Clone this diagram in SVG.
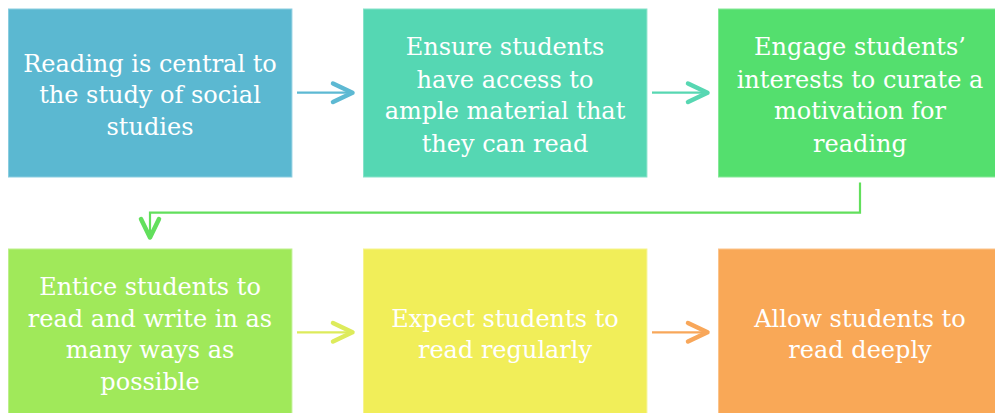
<svg xmlns="http://www.w3.org/2000/svg" width="995" height="413" viewBox="0 0 995 413">
<style>
.box{stroke-width:1}
.t{font-family:"DejaVu Serif","Liberation Serif",serif;font-size:24px;fill:#ffffff;text-anchor:middle}
.ln{fill:none;stroke-width:2.2}
.hd{fill:none;stroke-width:4.5;stroke-linecap:round;stroke-linejoin:round}
</style>
<rect width="995" height="413" fill="#ffffff"/>
<g id="n1"><rect class="box" x="8.5" y="9" width="283.4" height="168" fill="#5BB8D1" stroke="#8ACDE0"/>
<text class="t"><tspan x="150" y="71.7">Reading is central to</tspan><tspan x="150" y="103.3">the study of social</tspan><tspan x="150" y="135">studies</tspan></text></g>
<g id="n2"><rect class="box" x="363.5" y="9" width="283.4" height="168" fill="#55D7B3" stroke="#86E2C9"/>
<text class="t"><tspan x="505" y="55">Ensure students</tspan><tspan x="505" y="87.7">have access to</tspan><tspan x="505" y="119">ample material that</tspan><tspan x="505" y="151.7">they can read</tspan></text></g>
<g id="n3"><rect class="box" x="718.5" y="9" width="283.4" height="168" fill="#54DF6E" stroke="#86E898"/>
<text class="t"><tspan x="860" y="55">Engage students’</tspan><tspan x="860" y="87.7">interests to curate a</tspan><tspan x="860" y="119">motivation for</tspan><tspan x="860" y="151.7">reading</tspan></text></g>
<g id="n4"><rect class="box" x="8.5" y="249" width="283.4" height="168" fill="#A0E95A" stroke="#BDF08C"/>
<text class="t"><tspan x="150" y="295">Entice students to</tspan><tspan x="150" y="326.7">read and write in as</tspan><tspan x="150" y="358.3">many ways as</tspan><tspan x="150" y="390">possible</tspan></text></g>
<g id="n5"><rect class="box" x="363.5" y="249" width="283.4" height="168" fill="#F1EE59" stroke="#F6F38E"/>
<text class="t"><tspan x="505" y="326.7">Expect students to</tspan><tspan x="505" y="358.3">read regularly</tspan></text></g>
<g id="n6"><rect class="box" x="718.5" y="249" width="283.4" height="168" fill="#F9A857" stroke="#FBC48C"/>
<text class="t"><tspan x="860" y="326.7">Allow students to</tspan><tspan x="860" y="358.3">read deeply</tspan></text></g>
<g id="connectors">
<g stroke="#5DB9D3"><path class="ln" d="M297 92.7H351"/><path class="hd" d="M333 83.5L352.5 92.7L333 102"/></g>
<g stroke="#57D7B2"><path class="ln" d="M652 92.7H706"/><path class="hd" d="M688 83.5L707.5 92.7L688 102"/></g>
<g stroke="#62DF5C"><path class="ln" d="M860 182.5V212.7H150V236"/><path class="hd" d="M141 219L150 237.5L159 219"/></g>
<g stroke="#DDEB5B"><path class="ln" d="M297 332.3H351"/><path class="hd" d="M333 323L352.5 332.3L333 341.5"/></g>
<g stroke="#F8A75A"><path class="ln" d="M652 332.3H706"/><path class="hd" d="M688 323L707.5 332.3L688 341.5"/></g>
</g>
</svg>
